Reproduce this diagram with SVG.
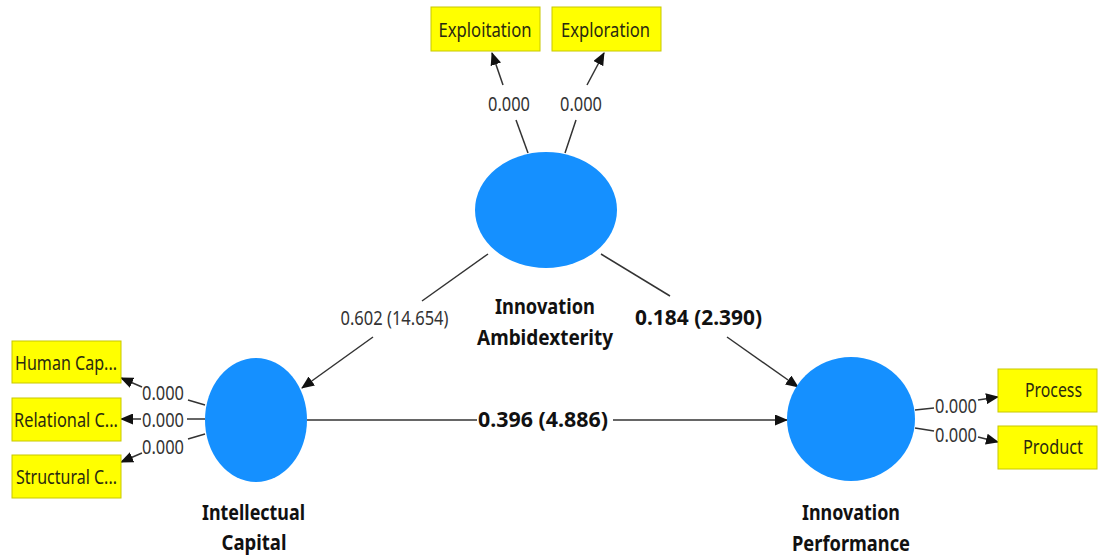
<svg xmlns="http://www.w3.org/2000/svg" width="1100" height="560" viewBox="0 0 1100 560">
<defs>
<marker id="arr" markerUnits="userSpaceOnUse" markerWidth="13" markerHeight="11" refX="12" refY="5.5" orient="auto">
<path d="M0,0 L13,5.5 L0,11 z" fill="#111"/>
</marker>
<style>
.lv{fill:#1590ff;}
.ind{fill:#ffff00;stroke:#c8c800;stroke-width:1;}
.it{font-family:"Noto Sans","Open Sans",sans-serif;font-size:20px;fill:#2a2a10;text-anchor:middle;}
.nl{font-family:"Noto Sans","Open Sans",sans-serif;font-size:21px;font-weight:bold;fill:#111;text-anchor:middle;}
.ld{font-family:"Noto Sans","Open Sans",sans-serif;font-size:20px;fill:#333;text-anchor:middle;}
.ls{font-family:"Noto Sans","Open Sans",sans-serif;font-size:19px;fill:#333;text-anchor:middle;}
.pb{font-family:"Noto Sans","Open Sans",sans-serif;font-size:21px;font-weight:bold;fill:#111;text-anchor:middle;}
.ln{stroke:#333;stroke-width:1.5;fill:none;}
.la{stroke:#333;stroke-width:1.5;fill:none;marker-end:url(#arr);}
</style>
</defs>
<rect width="1100" height="560" fill="#ffffff"/>

<g id="connectors">
<line class="ln" x1="528" y1="153" x2="516" y2="120"/>
<line class="la" x1="503" y1="85" x2="492" y2="53"/>
<line class="ln" x1="565" y1="153" x2="576" y2="120"/>
<line class="la" x1="587" y1="85" x2="604" y2="53"/>
<line class="ln" x1="205" y1="405" x2="188" y2="400"/>
<line class="la" x1="142" y1="387" x2="121" y2="378"/>
<line class="ln" x1="205" y1="419" x2="187" y2="419"/>
<line class="la" x1="141" y1="419" x2="121" y2="419"/>
<line class="ln" x1="205" y1="434" x2="188" y2="439"/>
<line class="la" x1="142" y1="453" x2="121" y2="462"/>
<line class="ln" x1="915" y1="410" x2="934" y2="408"/>
<line class="la" x1="978" y1="400" x2="998" y2="397"/>
<line class="ln" x1="915" y1="428" x2="934" y2="431"/>
<line class="la" x1="978" y1="437" x2="998" y2="442"/>
<line class="ln" x1="488" y1="254" x2="422" y2="301"/>
<line class="la" x1="373" y1="337" x2="302" y2="388"/>
<line class="ln" x1="601" y1="254" x2="670" y2="296"/>
<line class="la" x1="727" y1="337" x2="798" y2="387"/>
<line class="ln" x1="307" y1="420" x2="477" y2="420"/>
<line class="la" x1="613" y1="420" x2="787" y2="420"/>
<text class="ld" x="509" y="111" textLength="42" lengthAdjust="spacingAndGlyphs">0.000</text>
<text class="ld" x="581" y="111" textLength="42" lengthAdjust="spacingAndGlyphs">0.000</text>
<text class="ld" x="163" y="400" textLength="42" lengthAdjust="spacingAndGlyphs">0.000</text>
<text class="ld" x="163" y="427" textLength="42" lengthAdjust="spacingAndGlyphs">0.000</text>
<text class="ld" x="163" y="454" textLength="42" lengthAdjust="spacingAndGlyphs">0.000</text>
<text class="ld" x="956" y="413" textLength="42" lengthAdjust="spacingAndGlyphs">0.000</text>
<text class="ld" x="956" y="442" textLength="42" lengthAdjust="spacingAndGlyphs">0.000</text>
<text class="ls" x="394.5" y="325" textLength="108" lengthAdjust="spacingAndGlyphs">0.602 (14.654)</text>
<text class="pb" x="698.5" y="325" textLength="127" lengthAdjust="spacingAndGlyphs">0.184 (2.390)</text>
<text class="pb" x="543" y="427" textLength="130" lengthAdjust="spacingAndGlyphs">0.396 (4.886)</text>
</g>

<g id="innovation-ambidexterity">
<ellipse class="lv" cx="546" cy="210" rx="71" ry="58"/>
<text class="nl" x="545" y="314" textLength="100" lengthAdjust="spacingAndGlyphs">Innovation</text>
<text class="nl" x="545" y="345" textLength="136" lengthAdjust="spacingAndGlyphs">Ambidexterity</text>
</g>
<g id="intellectual-capital">
<ellipse class="lv" cx="256" cy="420" rx="51" ry="62"/>
<text class="nl" x="253.5" y="520" textLength="103" lengthAdjust="spacingAndGlyphs">Intellectual</text>
<text class="nl" x="254" y="550" textLength="65" lengthAdjust="spacingAndGlyphs">Capital</text>
</g>
<g id="innovation-performance">
<ellipse class="lv" cx="851" cy="419" rx="64" ry="62"/>
<text class="nl" x="851" y="520" textLength="98" lengthAdjust="spacingAndGlyphs">Innovation</text>
<text class="nl" x="851" y="551" textLength="118" lengthAdjust="spacingAndGlyphs">Performance</text>
</g>

<g id="exploitation"><rect class="ind" x="431" y="7" width="109" height="44"/><text class="it" x="485" y="37" textLength="93" lengthAdjust="spacingAndGlyphs">Exploitation</text></g>
<g id="exploration"><rect class="ind" x="552" y="7" width="109" height="44"/><text class="it" x="605.5" y="37" textLength="89" lengthAdjust="spacingAndGlyphs">Exploration</text></g>
<g id="human-capital"><rect class="ind" x="12" y="341" width="109" height="42"/><text class="it" x="66" y="370" textLength="102" lengthAdjust="spacingAndGlyphs">Human Cap...</text></g>
<g id="relational-capital"><rect class="ind" x="12" y="398" width="109" height="43"/><text class="it" x="66" y="427" textLength="104" lengthAdjust="spacingAndGlyphs">Relational C...</text></g>
<g id="structural-capital"><rect class="ind" x="12" y="455" width="109" height="43"/><text class="it" x="66.5" y="484" textLength="101" lengthAdjust="spacingAndGlyphs">Structural C...</text></g>
<g id="process"><rect class="ind" x="998" y="369" width="99" height="43"/><text class="it" x="1053.5" y="397" textLength="57" lengthAdjust="spacingAndGlyphs">Process</text></g>
<g id="product"><rect class="ind" x="998" y="426" width="99" height="43"/><text class="it" x="1053" y="454" textLength="60" lengthAdjust="spacingAndGlyphs">Product</text></g>
</svg>
